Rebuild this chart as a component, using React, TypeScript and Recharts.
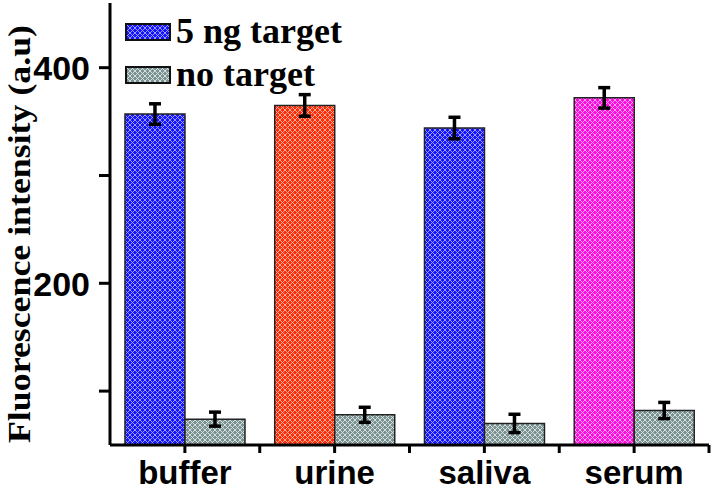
import React from "react";
import { BarChart, Bar, XAxis, YAxis, Cell, ErrorBar } from "recharts";

// values
const categories = ["buffer", "urine", "saliva", "serum"];
const targetValues = [357, 365, 344, 372];
const targetErrors = [9.5, 10, 10, 9.5];
const noTargetValues = [74, 78, 70, 82];
const noTargetErrors = [6.5, 7, 8.5, 7.5];
const targetPatterns = ["blue", "orange", "blue", "magenta"];
const yTicks = [100, 200, 300, 400];
const yLabels = [200, 400];

const patterns = [
  { id: "blue", base: "#1414ff", line: "#a8a8ff" },
  { id: "orange", base: "#ff2c08", line: "#ffb8a8" },
  { id: "magenta", base: "#ff0ae0", line: "#ffb0f4" },
  { id: "grey", base: "#7a9292", line: "#dfe7e7" },
];

const legendItems = [
  { label: "5 ng target", pattern: "blue" },
  { label: "no target", pattern: "grey" },
];

const chartData = categories.map((name, i) => ({
  name,
  target: targetValues[i],
  targetErr: targetErrors[i],
  noTarget: noTargetValues[i],
  noTargetErr: noTargetErrors[i],
}));

const sansBold = "'Liberation Sans', Arial, sans-serif";
const serifBold = "'Liberation Serif', 'Times New Roman', serif";

function XTick(props: any) {
  const { x, y, payload, index } = props;
  const half = payload && payload.offset ? payload.offset : 75;
  return (
    <g>
      <line x1={x} y1={y} x2={x} y2={y + 8} stroke="#000" strokeWidth={3} />
      {index > 0 && (
        <line x1={x - half} y1={y} x2={x - half} y2={y + 8} stroke="#000" strokeWidth={3} />
      )}
      {index === categories.length - 1 && (
        <line x1={x + half} y1={y} x2={x + half} y2={y + 8} stroke="#000" strokeWidth={3} />
      )}
      <text
        x={x}
        y={y + 39}
        textAnchor="middle"
        fontFamily={sansBold}
        fontWeight="bold"
        fontSize={33}
        fill="#000"
      >
        {payload.value}
      </text>
    </g>
  );
}

function YTick(props: any) {
  const { x, y, payload } = props;
  const show = yLabels.includes(payload.value);
  return (
    <g>
      <line x1={x + 9} y1={y} x2={x + 20} y2={y} stroke="#000" strokeWidth={3} />
      {show && (
        <text
          x={x}
          y={y}
          dy="0.36em"
          textAnchor="end"
          fontFamily={sansBold}
          fontWeight="bold"
          fontSize={34}
          fill="#000"
        >
          {payload.value}
        </text>
      )}
    </g>
  );
}

function LegendBox() {
  return (
    <div
      style={{
        position: "absolute",
        left: 125,
        top: 10,
        fontFamily: serifBold,
        fontWeight: "bold",
        fontSize: 36,
        lineHeight: "43px",
        pointerEvents: "none",
      }}
    >
      {legendItems.map((item) => (
        <div key={item.label} style={{ display: "flex", alignItems: "center", whiteSpace: "nowrap" }}>
          <svg width={46} height={18} style={{ marginRight: 5 }}>
            <rect x={1} y={1} width={44} height={16} fill={`url(#${item.pattern})`} stroke="#111" strokeWidth={2} />
          </svg>
          <span>{item.label}</span>
        </div>
      ))}
    </div>
  );
}

export default function App() {
  return (
    <div style={{ position: "absolute", left: 0, top: 0, width: 713, height: 491, background: "#fff" }}>
      <BarChart
        width={713}
        height={491}
        data={chartData}
        margin={{ top: 3, right: 4, left: 0, bottom: 0 }}
        barCategoryGap="10%"
        barGap={0}
      >
        <defs>
          {patterns.map((p) => (
            <pattern key={p.id} id={p.id} width={5} height={5} patternUnits="userSpaceOnUse">
              <rect width={5} height={5} fill={p.base} />
              <path d="M0,0 L5,5 M5,0 L0,5" stroke={p.line} strokeWidth={0.9} />
            </pattern>
          ))}
        </defs>
        <XAxis
          dataKey="name"
          height={46}
          axisLine={{ stroke: "#000", strokeWidth: 3 }}
          tickLine={false}
          tickSize={0}
          tickMargin={0}
          tick={<XTick />}
          interval={0}
        />
        <YAxis
          width={110}
          domain={[50, 460]}
          ticks={yTicks}
          axisLine={{ stroke: "#000", strokeWidth: 3 }}
          tickLine={false}
          tickSize={11}
          tickMargin={9}
          tick={<YTick />}
          allowDataOverflow
        />
        <Bar dataKey="target" name="5 ng target" fill="url(#blue)" stroke="#222" strokeWidth={1.5} isAnimationActive={false}>
          {chartData.map((d, i) => (
            <Cell key={d.name} fill={`url(#${targetPatterns[i]})`} />
          ))}
          <ErrorBar dataKey="targetErr" width={6} stroke="#000" strokeWidth={3.5} direction="y" />
        </Bar>
        <Bar dataKey="noTarget" name="no target" fill="url(#grey)" stroke="#222" strokeWidth={1.5} isAnimationActive={false}>
          <ErrorBar dataKey="noTargetErr" width={6} stroke="#000" strokeWidth={3.5} direction="y" />
        </Bar>
      </BarChart>
      <LegendBox />
      <svg
        width={60}
        height={491}
        style={{ position: "absolute", left: 0, top: 0, pointerEvents: "none" }}
      >
        <text
          transform="translate(30,234) rotate(-90)"
          textAnchor="middle"
          fontFamily={serifBold}
          fontWeight="bold"
          fontSize={32}
          textLength={418}
          lengthAdjust="spacingAndGlyphs"
          fill="#000"
        >
          Fluorescence intensity (a.u)
        </text>
      </svg>
    </div>
  );
}
